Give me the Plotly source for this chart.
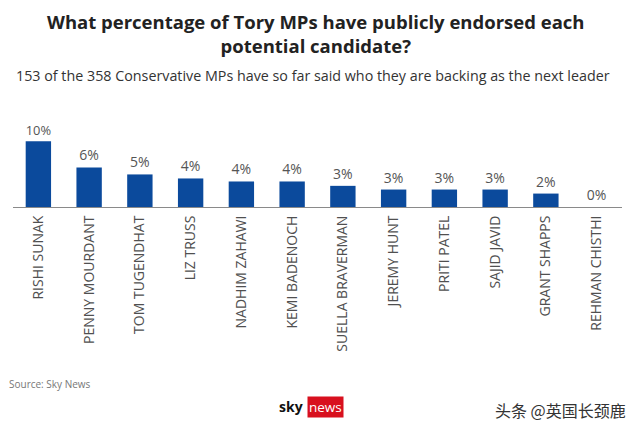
import plotly.graph_objects as go

candidates = ["RISHI SUNAK", "PENNY MOURDANT", "TOM TUGENDHAT", "LIZ TRUSS",
              "NADHIM ZAHAWI", "KEMI BADENOCH", "SUELLA BRAVERMAN", "JEREMY HUNT",
              "PRITI PATEL", "SAJID JAVID", "GRANT SHAPPS", "REHMAN CHISTHI"]
pct_values = [9.8, 5.9, 4.85, 4.25, 3.8, 3.8, 3.15, 2.6, 2.6, 2.6, 2.0, 0.0]
pct_labels = ["10%", "6%", "5%", "4%", "4%", "4%", "3%", "3%", "3%", "3%", "2%", "0%"]

W, H = 640, 432
M_L, M_R, M_T, M_B = 13, 18, 115, 225
plot_h = H - M_T - M_B
plot_w = W - M_L - M_R

def py(pix):
    return (H - M_B - pix) / plot_h

def px(pix):
    return (pix - M_L) / plot_w

FONT = "Open Sans"

fig = go.Figure(go.Bar(
    x=candidates, y=pct_values, text=pct_labels,
    textposition="outside", cliponaxis=False,
    textfont=dict(family=FONT, size=14, color="#555555"),
    marker=dict(color="#0b4a9c", line=dict(width=0)),
    hoverinfo="skip",
))

fig.update_layout(
    width=W, height=H,
    margin=dict(l=M_L, r=M_R, t=M_T, b=M_B),
    paper_bgcolor="white", plot_bgcolor="white",
    bargap=0.5, showlegend=False,
)
fig.update_xaxes(
    showline=True, linecolor="#8a8a8a", linewidth=1,
    tickangle=-90, ticks="", ticklabelstandoff=2,
    tickfont=dict(family=FONT, size=14, color="#505050"),
    showgrid=False, fixedrange=True,
)
fig.update_yaxes(range=[0, 13.7], visible=False, showgrid=False, zeroline=False, fixedrange=True)

fig.add_annotation(
    text="<b>What percentage of Tory MPs have publicly endorsed each<br>potential candidate?</b>",
    xref="paper", yref="paper", x=px(315), y=py(33), xanchor="center", yanchor="middle",
    showarrow=False, font=dict(family=FONT, size=18.5, color="#222222"),
)
fig.add_annotation(
    text="153 of the 358 Conservative MPs have so far said who they are backing as the next leader",
    xref="paper", yref="paper", x=px(313), y=py(75), xanchor="center", yanchor="middle",
    showarrow=False, font=dict(family=FONT, size=14.3, color="#333333"),
)
fig.add_annotation(
    text="Source: Sky News", xref="paper", yref="paper",
    x=px(7), y=py(384), xanchor="left", yanchor="middle",
    showarrow=False, font=dict(family=FONT, size=10, color="#777777"),
)
fig.add_annotation(
    text="<b>sky</b>", xref="paper", yref="paper",
    x=px(305), y=py(406), xanchor="right", yanchor="middle",
    showarrow=False, font=dict(family=FONT, size=14, color="#111111"),
)
fig.add_annotation(
    text="news", xref="paper", yref="paper",
    x=px(307), y=py(407), xanchor="left", yanchor="middle",
    showarrow=False, bgcolor="#d8101e", borderpad=1,
    font=dict(family=FONT, size=13.5, color="white"),
)
fig.add_annotation(
    text="头条 @英国长颈鹿", xref="paper", yref="paper",
    x=px(628), y=py(410), xanchor="right", yanchor="middle",
    showarrow=False, font=dict(family="Noto Sans CJK SC", size=16, color="#333333"),
)

fig.write_html("out.html", config={"displayModeBar": False},
               post_script="document.body.style.margin='0';")
